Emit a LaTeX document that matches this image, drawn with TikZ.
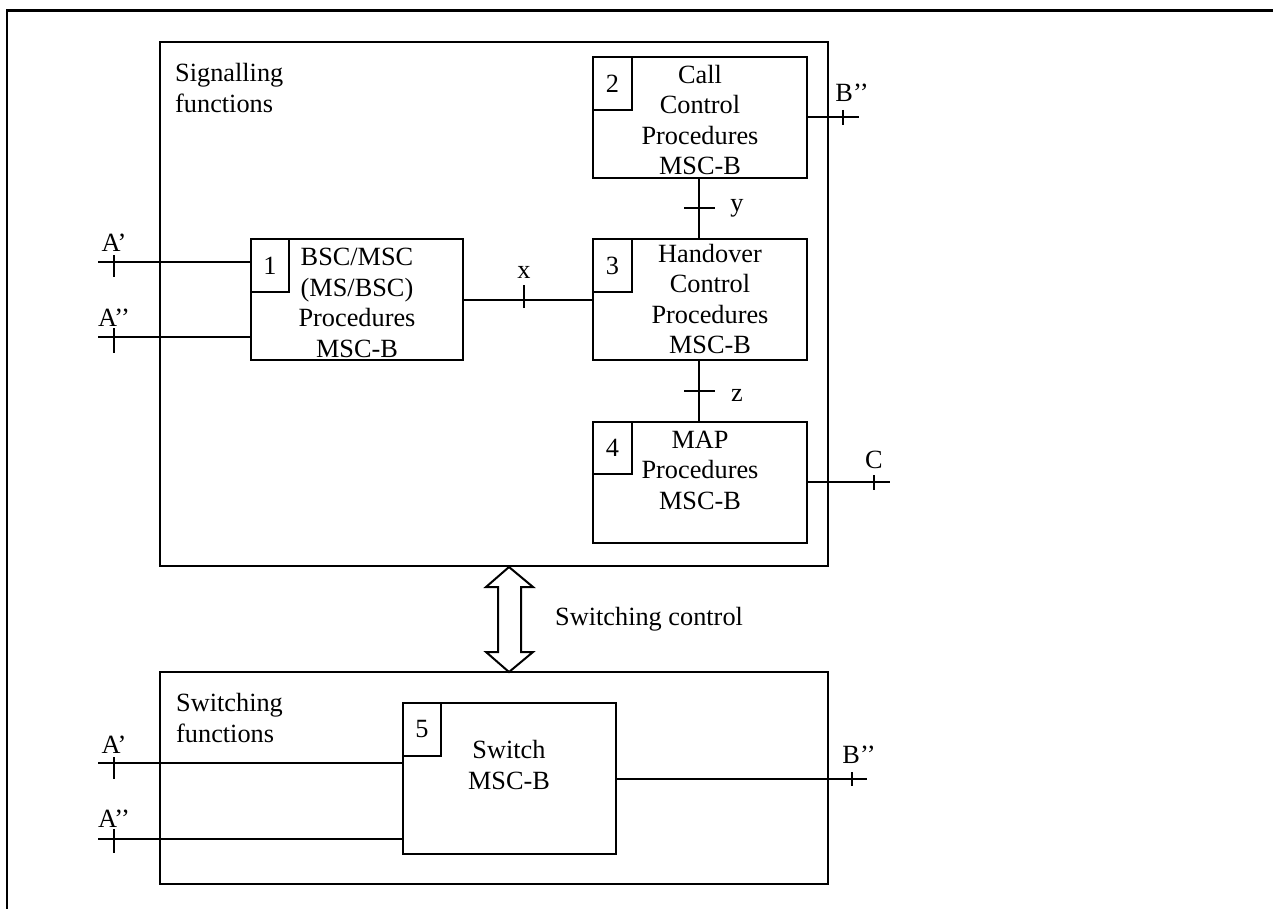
\documentclass[tikz,border=0pt]{standalone}
\usepackage{fontspec}
\setmainfont{Liberation Serif}
\begin{document}
\begin{tikzpicture}[x=1pt,y=-1pt,
  box/.style={draw, line width=2pt, inner sep=0pt, outer sep=0pt, anchor=north west},
  txt/.style={font=\fontsize{26.3}{30.5}\selectfont, inner sep=0pt, align=center},
  conn/.style={line width=2pt},
  tickmark/.style={line width=2pt}]
\useasboundingbox (0,0) rectangle (1273,909);
% outer frame (only top and left edges visible)
\draw[line width=1.5pt] (7,909) -- (7,11);
\draw[line width=3pt] (6.25,11) -- (1273,11);

% signalling functions box
\node[box, minimum width=668pt, minimum height=524pt] (sig) at (160,42) {};
\node[txt, align=left, anchor=west] (sigl) at (175,88) {Signalling\\functions};

% procedure boxes
\node[box, minimum width=212pt, minimum height=121pt] (b1) at (251,239) {};
\node[box, minimum width=214pt, minimum height=121pt] (b2) at (593,57) {};
\node[box, minimum width=214pt, minimum height=121pt] (b3) at (593,239) {};
\node[box, minimum width=214pt, minimum height=121pt] (b4) at (593,422) {};

\node[box, minimum width=38pt, minimum height=53pt] (n1) at (b1.north west) {};
\node[box, minimum width=39pt, minimum height=53pt] (n2) at (b2.north west) {};
\node[box, minimum width=39pt, minimum height=53pt] (n3) at (b3.north west) {};
\node[box, minimum width=39pt, minimum height=52pt] (n4) at (b4.north west) {};
\node[txt] (n1t) at (n1) {1};
\node[txt] (n2t) at (n2) {2};
\node[txt] (n3t) at (n3) {3};
\node[txt] (n4t) at (n4) {4};

\node[txt] (t1) at (357,303) {BSC/MSC\\(MS/BSC)\\Procedures\\MSC-B};
\node[txt] (t2) at (700,120) {Call\\Control\\Procedures\\MSC-B};
\node[txt] (t3) at (710,299) {Handover\\Control\\Procedures\\MSC-B};
\node[txt] (t4) at (700,470) {MAP\\Procedures\\MSC-B};

% switching functions box
\node[box, minimum width=668pt, minimum height=212pt] (sw) at (160,672) {};
\node[txt, align=left, anchor=west] (swl) at (176,718) {Switching\\functions};
\node[box, minimum width=213pt, minimum height=151pt] (b5) at (403,703) {};
\node[box, minimum width=38pt, minimum height=53pt] (n5) at (b5.north west) {};
\node[txt] (n5t) at (n5) {5};
\node[txt] (t5) at (509,765) {Switch\\MSC-B};

% switching control double arrow
\draw[line width=2pt, fill=white, line join=miter]
  (509,567) -- (533,587) -- (521,587) -- (521,652) -- (533,652) -- (509,672)
  -- (486,652) -- (498,652) -- (498,587) -- (486,587) -- cycle;
\node[txt, anchor=west] (swc) at (555,619) {Switching control};

% interface end points
\coordinate (pa1) at (98,262);
\coordinate (pa2) at (98,337);
\coordinate (pb2) at (859,117);
\coordinate (pc) at (890,482);
\coordinate (xc) at (524,300);
\coordinate (yc) at (699,208);
\coordinate (zc) at (699,391);
\coordinate (qa1) at (98,763);
\coordinate (qa2) at (98,839);
\coordinate (qb2) at (867,779);

% connectors
\draw[conn] (pa1) -- (pa1 -| b1.west);
\draw[conn] (pa2) -- (pa2 -| b1.west);
\draw[conn] (b1.east |- xc) -- (b3.west |- xc);
\draw[conn] (b2.south -| yc) -- (b3.north -| yc);
\draw[conn] (b3.south -| zc) -- (b4.north -| zc);
\draw[conn] (b2.east |- pb2) -- (pb2);
\draw[conn] (b4.east |- pc) -- (pc);
\draw[conn] (qa1) -- (qa1 -| b5.west);
\draw[conn] (qa2) -- (qa2 -| b5.west);
\draw[conn] (b5.east |- qb2) -- (qb2);

% tick marks
\draw[tickmark] (114,255) -- (114,277);
\draw[tickmark] (114,328) -- (114,353);
\draw[tickmark] ([yshift=-8pt]xc) -- ([yshift=15pt]xc);
\draw[tickmark] ([xshift=-15pt]yc) -- ([xshift=16pt]yc);
\draw[tickmark] ([xshift=-15pt]zc) -- ([xshift=16pt]zc);
\draw[tickmark] (843,110) -- (843,125);
\draw[tickmark] (874,475) -- (874,490);
\draw[tickmark] (114,757) -- (114,779);
\draw[tickmark] (114,829) -- (114,853);
\draw[tickmark] (852,772) -- (852,786);

% interface labels
\node[txt] (la1) at (114,243) {A’};
\node[txt] (la2) at (114,318) {A’’};
\node[txt] (lx) at (524,272) {x};
\node[txt] (ly) at (737,208) {y};
\node[txt] (lz) at (737,395) {z};
\node[txt] (lb2) at (852,93) {B’’};
\node[txt] (lc) at (874,460) {C};
\node[txt] (qla1) at (114,745) {A’};
\node[txt] (qla2) at (114,819) {A’’};
\node[txt] (qlb2) at (859,755) {B’’};
\end{tikzpicture}
\end{document}
